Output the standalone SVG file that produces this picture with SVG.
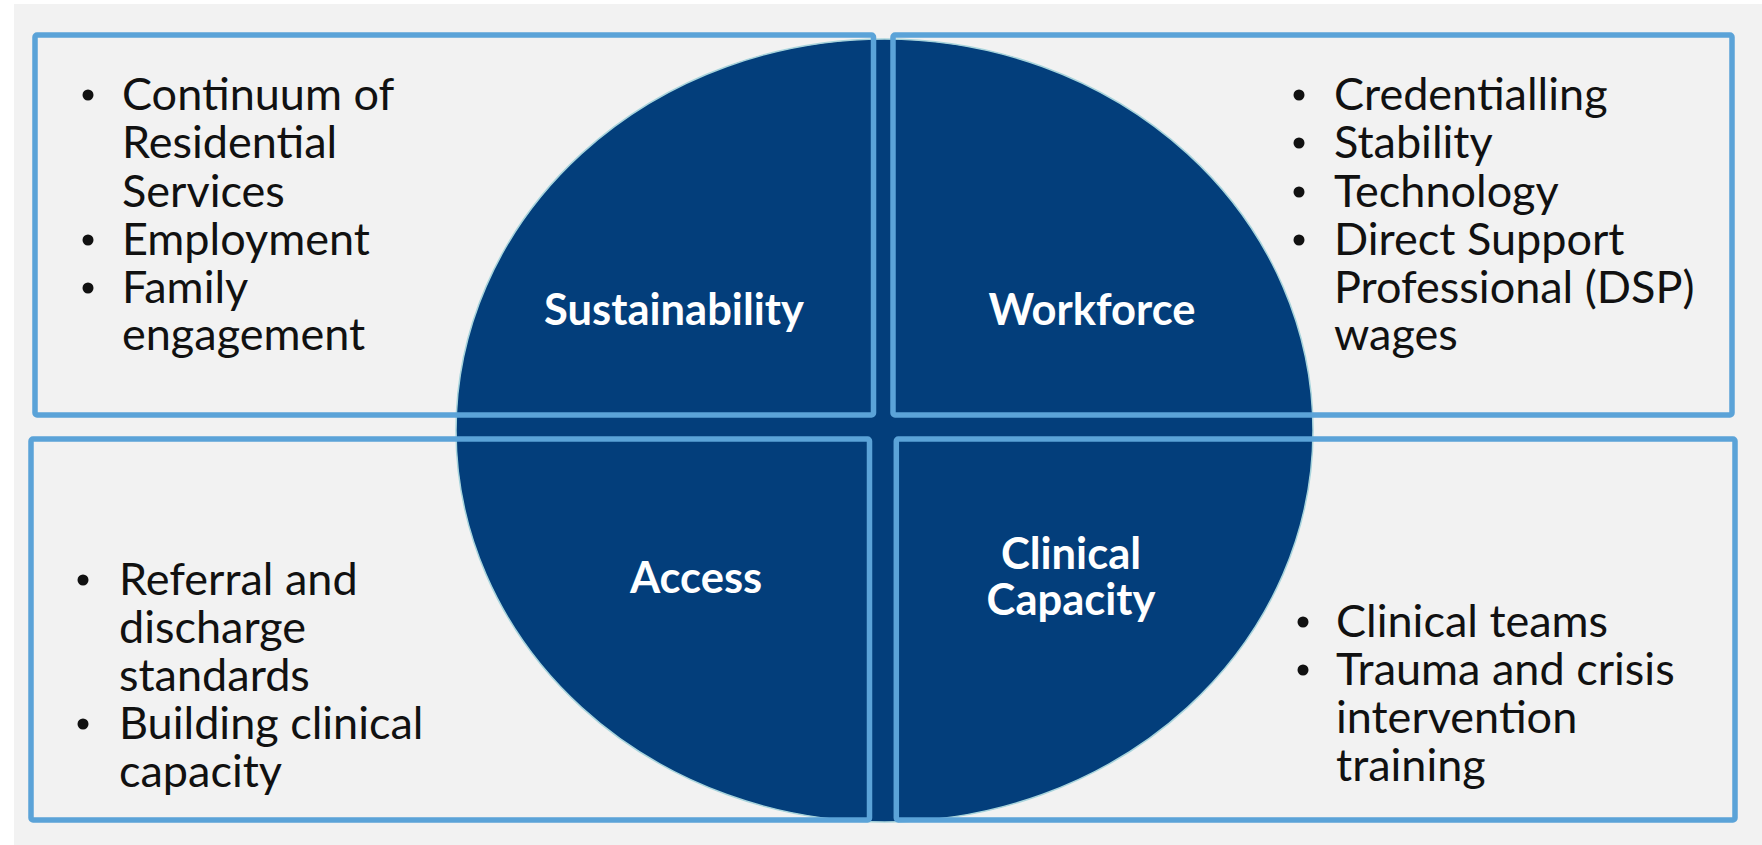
<svg xmlns="http://www.w3.org/2000/svg" width="1762" height="845" viewBox="0 0 1762 845">
<style>
.bg{fill:#f2f2f2}
.box{fill:none;stroke:#5ba3d8;stroke-width:5.5;stroke-linejoin:round}
.core{fill:#033e7b;stroke:#a8d4dc;stroke-width:1.5}
.item{font-family:Lato,"Liberation Sans",sans-serif;font-size:45px;fill:#111}
.head{font-family:Lato,"Liberation Sans",sans-serif;font-size:43.5px;font-weight:bold;fill:#ffffff;text-anchor:middle}
.dot{fill:#111}
</style>
<rect class="bg" x="14" y="4" width="1748" height="841"/>
<g id="core">
<ellipse class="core" cx="884.5" cy="430.5" rx="428.5" ry="391.5"/>
</g>
<g id="connectors"></g>
<g id="sustainability">
<rect class="box" x="35" y="35" width="838.5" height="380" rx="2"/>
<text class="head" x="674" y="325">Sustainability</text>
<circle class="dot" cx="88" cy="95" r="5.5"/>
<circle class="dot" cx="88" cy="240" r="5.5"/>
<circle class="dot" cx="88" cy="288" r="5.5"/>
<text class="item" x="122" y="110">Continuum of</text>
<text class="item" x="122" y="158">Residential</text>
<text class="item" x="122" y="207">Services</text>
<text class="item" x="122" y="255">Employment</text>
<text class="item" x="122" y="303">Family</text>
<text class="item" x="122" y="350">engagement</text>
</g>
<g id="workforce">
<rect class="box" x="893" y="35" width="839" height="380" rx="2"/>
<text class="head" x="1092" y="325">Workforce</text>
<circle class="dot" cx="1299" cy="95" r="5.5"/>
<circle class="dot" cx="1299" cy="143" r="5.5"/>
<circle class="dot" cx="1299" cy="192" r="5.5"/>
<circle class="dot" cx="1299" cy="240" r="5.5"/>
<text class="item" x="1334" y="110">Credentialling</text>
<text class="item" x="1334" y="158">Stability</text>
<text class="item" x="1334" y="207">Technology</text>
<text class="item" x="1334" y="255">Direct Support</text>
<text class="item" x="1334" y="303">Professional (DSP)</text>
<text class="item" x="1334" y="350">wages</text>
</g>
<g id="access">
<rect class="box" x="31" y="439" width="838.5" height="381" rx="2"/>
<text class="head" x="696" y="593">Access</text>
<circle class="dot" cx="83" cy="580" r="5.5"/>
<circle class="dot" cx="83" cy="724" r="5.5"/>
<text class="item" x="119" y="595">Referral and</text>
<text class="item" x="119" y="643">discharge</text>
<text class="item" x="119" y="691">standards</text>
<text class="item" x="119" y="739">Building clinical</text>
<text class="item" x="119" y="787">capacity</text>
</g>
<g id="clinical-capacity">
<rect class="box" x="896.3" y="439" width="838.7" height="381" rx="2"/>
<text class="head" x="1071" y="569">Clinical</text>
<text class="head" x="1071" y="615">Capacity</text>
<circle class="dot" cx="1303" cy="622" r="5.5"/>
<circle class="dot" cx="1303" cy="670" r="5.5"/>
<text class="item" x="1336" y="637">Clinical teams</text>
<text class="item" x="1336" y="685">Trauma and crisis</text>
<text class="item" x="1336" y="733">intervention</text>
<text class="item" x="1336" y="781">training</text>
</g>
</svg>
